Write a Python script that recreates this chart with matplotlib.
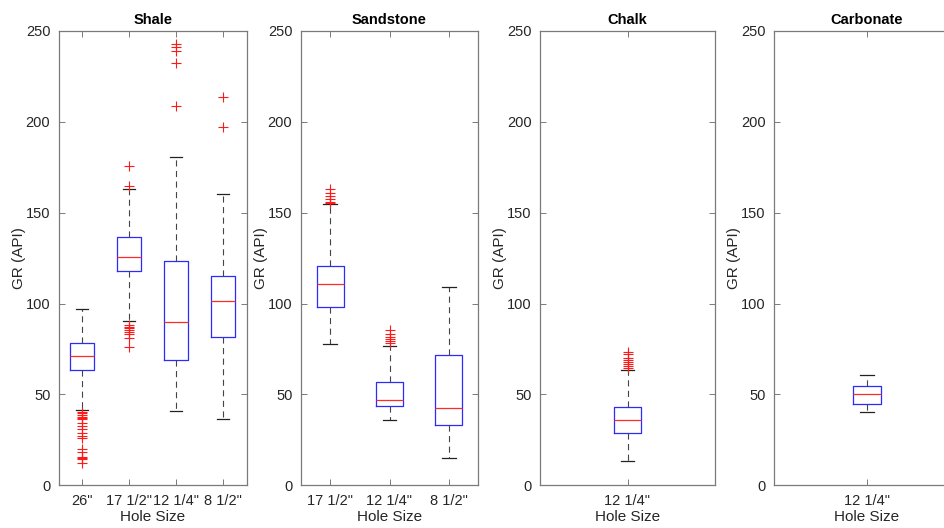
import matplotlib
matplotlib.use("Agg")
import matplotlib.pyplot as plt

plt.rcParams['font.family'] = ['Liberation Sans', 'DejaVu Sans']

# ---- data ----
panels = ["Shale", "Sandstone", "Chalk", "Carbonate"]

shale_labels = ['26"', '17 1/2"', '12 1/4"', '8 1/2"']
shale_whislo = [41.4, 90.3, 41.0, 36.3]
shale_q1 = [63.4, 117.7, 69.2, 81.5]
shale_med = [71.1, 125.6, 89.6, 101.3]
shale_q3 = [78.2, 136.6, 123.4, 115.0]
shale_whishi = [97.0, 163.0, 180.5, 160.4]
shale_fliers = [
    [40.5, 39.6, 38.6, 37.7, 36.8, 36.3, 34.4, 32.6, 30.8, 28.9, 27.1, 25.8,
     19.8, 18.5, 15.4, 14.8, 14.3, 12.1],
    [175.8, 164.8, 88.1, 87.2, 86.3, 85.3, 84.4, 83.2, 81.3, 76.2],
    [242.9, 241.0, 238.8, 232.6, 209.0],
    [213.9, 197.4],
]

sand_labels = ['17 1/2"', '12 1/4"', '8 1/2"']
sand_whislo = [77.6, 36.1, 15.0]
sand_q1 = [98.1, 43.6, 33.0]
sand_med = [111.0, 46.9, 42.7]
sand_q3 = [120.9, 57.0, 71.8]
sand_whishi = [154.9, 76.9, 109.2]
sand_fliers = [
    [162.8, 161.0, 159.1, 157.3, 156.0, 155.3],
    [85.3, 83.5, 81.7, 80.6, 79.5, 78.4],
    [],
]

chalk_labels = ['12 1/4"']
chalk_whislo = [13.2]
chalk_q1 = [28.9]
chalk_med = [35.9]
chalk_q3 = [42.9]
chalk_whishi = [63.6]
chalk_fliers = [[73.3, 72.0, 70.3, 68.9, 67.6, 66.5, 65.4, 64.5]]

carb_labels = ['12 1/4"']
carb_whislo = [40.1]
carb_q1 = [45.0]
carb_med = [50.5]
carb_q3 = [54.9]
carb_whishi = [60.8]
carb_fliers = [[]]

groups = [
    (shale_labels, shale_whislo, shale_q1, shale_med, shale_q3, shale_whishi, shale_fliers),
    (sand_labels, sand_whislo, sand_q1, sand_med, sand_q3, sand_whishi, sand_fliers),
    (chalk_labels, chalk_whislo, chalk_q1, chalk_med, chalk_q3, chalk_whishi, chalk_fliers),
    (carb_labels, carb_whislo, carb_q1, carb_med, carb_q3, carb_whishi, carb_fliers),
]

# ---- layout (pixels -> figure fractions) ----
W, H = 944, 528
ax_px = [(58.7, 188.0), (300.7, 177.6), (540.0, 175.0), (774.0, 185.4)]
box_widths = [0.5, 0.46, 0.15, 0.15]
top_px, bot_px = 31.0, 485.3

fig = plt.figure(figsize=(W / 100, H / 100), dpi=100)
spine_col = '#7a7a7a'
text_col = '#262626'

for (left, width), bw, title, g in zip(ax_px, box_widths, panels, groups):
    labels, wlo, q1, med, q3, whi, fl = g
    ax = fig.add_axes([left / W, 1 - bot_px / H, width / W, (bot_px - top_px) / H])
    stats = []
    for i in range(len(labels)):
        stats.append(dict(label=labels[i], whislo=wlo[i], q1=q1[i], med=med[i],
                          q3=q3[i], whishi=whi[i], fliers=fl[i]))
    pos = list(range(1, len(labels) + 1))
    ax.bxp(stats, positions=pos, widths=bw, showfliers=True, patch_artist=False,
           boxprops=dict(color='#2b2bff', linewidth=0.9),
           medianprops=dict(color='#ff2a2a', linewidth=0.9),
           whiskerprops=dict(color='#444444', linestyle=(0, (5.5, 4)), linewidth=0.8),
           capprops=dict(color='#222222', linewidth=0.9),
           capwidths=bw * 0.5,
           flierprops=dict(marker='+', markeredgecolor='#ff1a1a', markersize=6.5,
                           markeredgewidth=0.8, linestyle='none'))
    ax.set_xlim(0.5, len(labels) + 0.5)
    ax.set_ylim(0, 250)
    ax.set_yticks([0, 50, 100, 150, 200, 250])
    ax.set_xticks(pos)
    ax.set_xticklabels(labels)
    ax.tick_params(direction='in', top=True, right=True, length=4, width=0.7,
                   colors=spine_col, labelcolor=text_col, labelsize=10.5, pad=6)
    for s in ax.spines.values():
        s.set_color(spine_col)
        s.set_linewidth(0.9)
    ax.set_title(title, fontsize=10.5, fontweight='bold', color='black', pad=5)
    ax.set_ylabel('GR (API)', fontsize=11, color=text_col, labelpad=0)
    ax.set_xlabel('Hole Size', fontsize=11, color=text_col, labelpad=2)

fig.savefig('out.png', dpi=100)
